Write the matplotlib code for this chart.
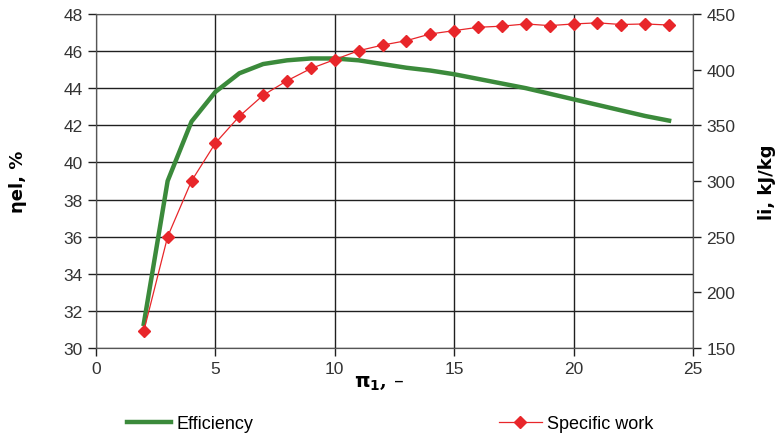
import matplotlib.pyplot as plt
from matplotlib.lines import Line2D

plt.rcParams['font.family'] = ['Liberation Sans', 'DejaVu Sans']

# Data
pi_1 = [2, 3, 4, 5, 6, 7, 8, 9, 10, 11, 12, 13, 14, 15, 16, 17, 18, 19, 20, 21, 22, 23, 24]

efficiency = [31.3, 39.0, 42.2, 43.8, 44.8, 45.3, 45.5, 45.6, 45.6, 45.5, 45.3,
              45.1, 44.95, 44.75, 44.5, 44.25, 44.0, 43.7, 43.4, 43.1, 42.8, 42.5, 42.25]

specific_work = [165, 250, 300, 334, 358, 377, 390, 401, 409, 417, 422,
                 426, 432, 435, 438, 439, 441, 439.5, 441, 442, 440.5, 441, 440]

green = '#3b8a3b'
red = '#e8262a'

fig = plt.figure(figsize=(7.78, 4.39), dpi=100)
ax = fig.add_axes([0.1234, 0.205, 0.7673, 0.761])
ax2 = ax.twinx()

ax.plot(pi_1, efficiency, color=green, linewidth=3.2, zorder=3)
ax2.plot(pi_1, specific_work, color=red, linewidth=0.9, marker='D', markersize=6.5,
         markeredgecolor=red, zorder=4)

ax.set_xlim(0, 25)
ax.set_ylim(30, 48)
ax2.set_ylim(150, 450)
ax.set_xticks(range(0, 26, 5))
ax.set_yticks(range(30, 49, 2))
ax2.set_yticks(range(150, 451, 50))

ax.grid(True, color='#202020', linewidth=1.0)
ax.set_axisbelow(True)

for a in (ax, ax2):
    a.tick_params(direction='out', length=6, width=1, labelsize=12.5, colors='#202020',
                  labelcolor='#333333')
    for s in a.spines.values():
        s.set_color('#555555')
ax.spines['top'].set_color('#aaaaaa')

ax.set_ylabel('ηel, %', fontsize=13, fontweight='bold', family='DejaVu Sans', labelpad=26)
ax2.set_ylabel('li, kJ/kg', fontsize=13, fontweight='bold', family='DejaVu Sans', labelpad=16)
fig.text(0.455, 0.128, r'$\mathbf{\pi_1}$, –', fontsize=14, fontweight='bold',
         family='DejaVu Serif', va='center')

handles = [Line2D([], [], color=green, linewidth=3.2),
           Line2D([], [], color=red, linewidth=0.9, marker='D', markersize=6.5)]
fig.legend(handles, ['Efficiency', 'Specific work'], loc='center', ncol=2,
           bbox_to_anchor=(0.502, 0.032), frameon=False, fontsize=13,
           columnspacing=13.6, handlelength=2.4, handletextpad=0.3)

fig.savefig('out.png', dpi=100)
